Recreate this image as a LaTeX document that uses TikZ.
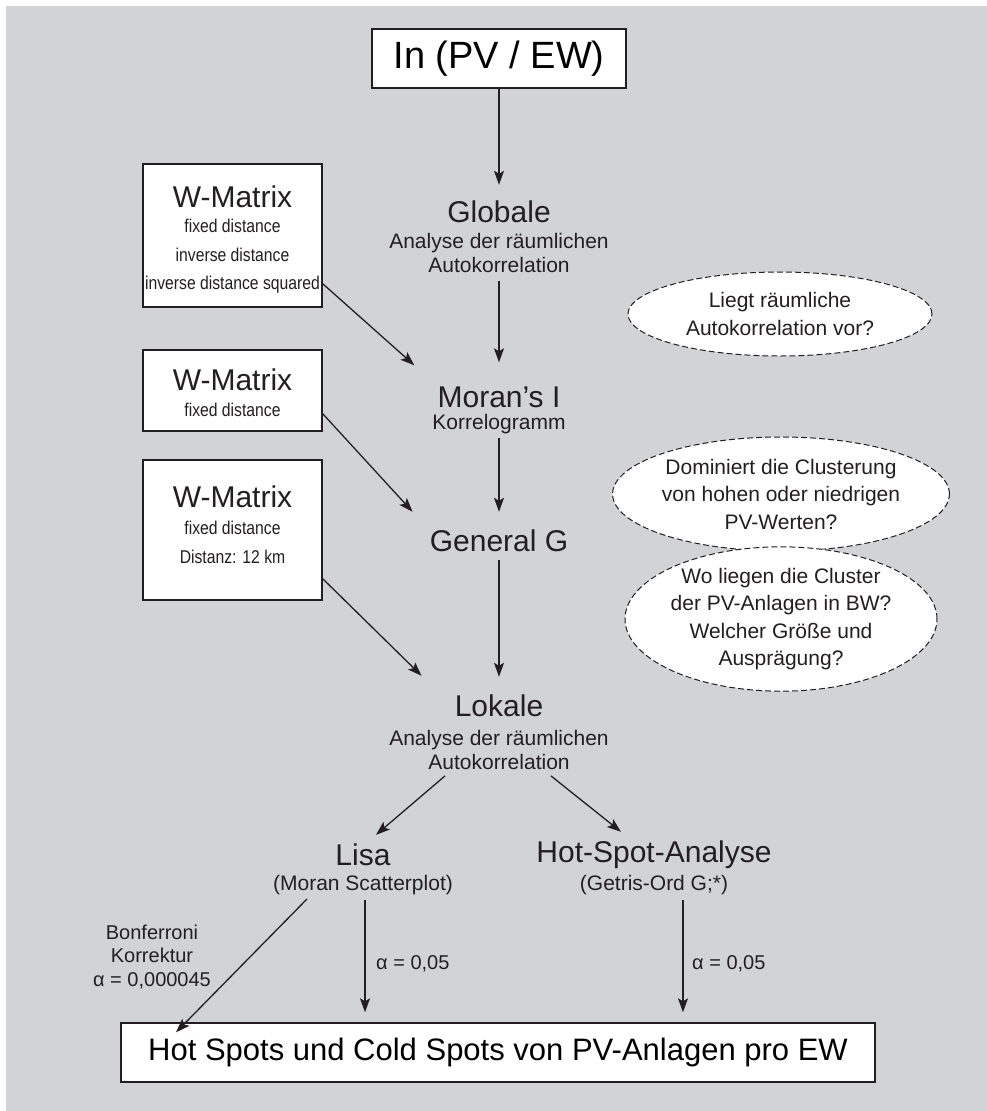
\documentclass[tikz,border=0pt]{standalone}
\usepackage{fontspec}
\setmainfont{Liberation Sans}
\newfontfamily\narrowf[FakeStretch=0.85]{Liberation Sans}
\usetikzlibrary{arrows.meta,shapes.geometric,calc}
\definecolor{bg}{RGB}{210,211,213}
\definecolor{ink}{RGB}{35,31,32}
\newcommand{\TitleF}{\fontsize{30}{34}\selectfont}
\newcommand{\SubF}{\fontsize{21}{24}\selectfont}
\newcommand{\EllF}{\fontsize{21}{27.5}\selectfont}
\newcommand{\BoxF}{\narrowf\fontsize{18.5}{28.5}\selectfont}
\newcommand{\LblF}{\fontsize{20}{23.5}\selectfont}
\newcommand{\BigF}{\fontsize{38}{42}\selectfont}
\begin{document}
\begin{tikzpicture}[x=1pt,y=-1pt,
  wbox/.style={draw=ink, fill=white, line width=1.4pt, inner sep=0pt, align=center},
  ttl/.style={font=\TitleF, text=ink, inner sep=0pt},
  sub/.style={font=\SubF, text=ink, inner sep=0pt, align=center},
  bsub/.style={font=\BoxF, text=ink, inner sep=0pt, align=center},
  qell/.style={ellipse, draw=ink, fill=white, dash pattern=on 6pt off 3pt, line width=1pt, inner sep=0pt, align=center, font=\EllF, text=ink},
  arr/.style={draw=ink, line width=1.3pt, -{Stealth[length=14pt,width=10pt,inset=3pt]}},
  lbl/.style={font=\LblF, text=ink, inner sep=0pt, align=center}
]
\useasboundingbox (0,0) rectangle (987,1111);
\fill[bg] (6,6) rectangle (987,1111);

% top box
\node[wbox, minimum width=254pt, minimum height=59pt, font=\BigF] (top) at (499,58.5) {In (PV / EW)};

% main column
\node[ttl] (globT) at (499,212) {Globale};
\node[sub] (globS) at (499,252.5) {Analyse der räumlichen\\Autokorrelation};
\node[ttl] (moranT) at (499,397) {Moran's I};
\node[sub] (moranS) at (499,424) {Korrelogramm};
\node[ttl] (genT) at (499,541) {General G};
\node[ttl] (lokT) at (499,706) {Lokale};
\node[sub] (lokS) at (499,750) {Analyse der räumlichen\\Autokorrelation};

% W-Matrix boxes
\node[wbox, minimum width=179pt, minimum height=143pt] (box1) at (232.5,235.5) {};
\node[ttl] (w1) at (232.5,197) {W-Matrix};
\node[bsub] (w1s) at (232.5,256.5) {fixed distance\\inverse distance\\inverse distance squared};

\node[wbox, minimum width=179pt, minimum height=81pt] (box2) at (232.5,390.5) {};
\node[ttl] (w2) at (232.5,380) {W-Matrix};
\node[bsub] (w2s) at (232.5,410) {fixed distance};

\node[wbox, minimum width=179pt, minimum height=140pt] (box3) at (232.5,530) {};
\node[ttl] (w3) at (232.5,497) {W-Matrix};
\node[bsub] (w3s) at (232.5,542.5) {fixed distance\\Distanz: 12 km};

% question ellipses
\node[qell, minimum width=304pt, minimum height=84pt] (q1) at (780,314) {Liegt räumliche\\Autokorrelation vor?};
\node[qell, minimum width=306pt, minimum height=114pt] (q2) at (781,494) {Dominiert die Clusterung\\von hohen oder niedrigen\\PV-Werten?};
\node[qell, minimum width=310pt, minimum height=136pt] (q3) at (781,619) {Wo liegen die Cluster\\der PV-Anlagen in BW?\\Welcher Größe und\\Ausprägung?};

% lower part
\node[ttl] (lisaT) at (363,855) {Lisa};
\node[sub] (lisaS) at (363,885) {(Moran Scatterplot)};
\node[ttl] (hotT) at (654,855) {Hot-Spot-Analyse};
\node[sub] (hotS) at (654,885) {(Getris-Ord G;*)};

\node[lbl] (bonf) at (152,957) {Bonferroni\\Korrektur\\α = 0,000045};

\node[wbox, minimum width=754pt, minimum height=59pt, font=\fontsize{31}{34}\selectfont] (res) at (498,1052.5) {Hot Spots und Cold Spots von PV-Anlagen pro EW};

% connectors
\draw[arr, shorten >=16pt] (top.south) -- (globT.north);
\draw[arr, shorten <=9pt, shorten >=24pt] (globS.south) -- (moranT.north);
\draw[arr, shorten <=4pt, shorten >=18pt] (moranS.south) -- (genT.north);
\draw[arr, shorten <=8pt, shorten >=18pt] (genT.south) -- (lokT.north);

\draw[arr] ([yshift=24pt]box1.south east) -- ([shift={(-23pt,21pt)}]moranT.north west);
\draw[arr] ([yshift=18pt]box2.south east) -- ([shift={(-17pt,18pt)}]genT.north west);
\draw[arr] ([yshift=22pt]box3.south east) -- ([shift={(-33pt,19pt)}]lokT.north west);

\draw[arr] ([shift={(-54pt,-6pt)}]lokS.south) -- ([shift={(13pt,9pt)}]lisaT.north);
\draw[arr] ([shift={(52pt,-6pt)}]lokS.south) -- ([shift={(-33pt,9pt)}]hotT.north);

\draw[arr] ([shift={(-56pt,-4pt)}]lisaS.south) -- ([shift={(-322pt,-10pt)}]res.north);
\draw[arr, shorten <=5pt, shorten >=10pt] ([xshift=2pt]lisaS.south) -- ([xshift=2pt]lisaS.south |- res.north);
\draw[arr, shorten <=5pt, shorten >=10pt] ([xshift=29pt]hotS.south) -- ([xshift=29pt]hotS.south |- res.north);

\node[lbl, anchor=west] (a1) at (376,964) {α = 0,05};
\node[lbl, anchor=west] (a2) at (692,964) {α = 0,05};
\end{tikzpicture}
\end{document}
